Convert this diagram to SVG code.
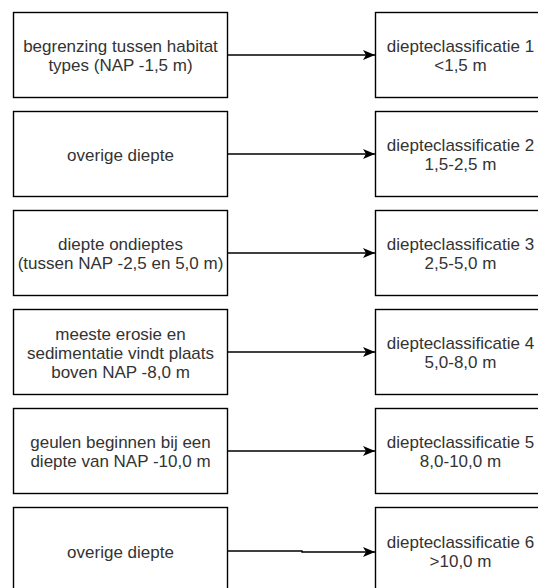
<svg xmlns="http://www.w3.org/2000/svg" width="538" height="588" viewBox="0 0 538 588">
<defs>
<style>
.box{fill:#fff;stroke:#000;stroke-width:1.4}
.t{font-family:"Liberation Sans",Arial,Helvetica,sans-serif;font-size:17px;fill:#333;text-anchor:middle}
.edge{fill:none;stroke:#000;stroke-width:1.4}
</style>
<marker id="arr" markerUnits="userSpaceOnUse" markerWidth="14" markerHeight="12" refX="12" refY="5" orient="auto" viewBox="0 0 14 12">
<path d="M0,0 L12,5 L0,10 L3,5 Z" fill="#000"/>
</marker>
</defs>
<rect width="538" height="588" fill="#fff"/>
<g id="connectors">
<path class="edge" d="M227.5,55 H375" marker-end="url(#arr)"/>
<path class="edge" d="M227.5,154 H375" marker-end="url(#arr)"/>
<path class="edge" d="M227.5,253 H375" marker-end="url(#arr)"/>
<path class="edge" d="M227.5,352 H375" marker-end="url(#arr)"/>
<path class="edge" d="M227.5,451 H375" marker-end="url(#arr)"/>
<path class="edge" d="M227.5,551 H302 V552 H375" marker-end="url(#arr)"/>
</g>
<g id="l1"><rect class="box" x="13.5" y="12.5" width="214" height="85"/><text class="t"><tspan x="120.5" y="52.3">begrenzing tussen habitat</tspan><tspan x="120.5" y="71">types (NAP -1,5 m)</tspan></text></g>
<g id="l2"><rect class="box" x="13.5" y="111.5" width="214" height="85"/><text class="t" x="120.5" y="160.7">overige diepte</text></g>
<g id="l3"><rect class="box" x="13.5" y="210.5" width="214" height="85"/><text class="t"><tspan x="120.5" y="250.3">diepte ondieptes</tspan><tspan x="120.5" y="269">(tussen NAP -2,5 en 5,0 m)</tspan></text></g>
<g id="l4"><rect class="box" x="13.5" y="309.5" width="214" height="85"/><text class="t"><tspan x="120.5" y="340.4">meeste erosie en</tspan><tspan x="120.5" y="359.1">sedimentatie vindt plaats</tspan><tspan x="120.5" y="377.8">boven NAP -8,0 m</tspan></text></g>
<g id="l5"><rect class="box" x="13.5" y="408.5" width="214" height="85"/><text class="t"><tspan x="120.5" y="448.3">geulen beginnen bij een</tspan><tspan x="120.5" y="467">diepte van NAP -10,0 m</tspan></text></g>
<g id="l6"><rect class="box" x="13.5" y="507.5" width="214" height="85"/><text class="t" x="120.5" y="557.7">overige diepte</text></g>
<g id="r1"><rect class="box" x="375.5" y="12.5" width="170" height="85"/><text class="t"><tspan x="460.5" y="52.3">diepteclassificatie 1</tspan><tspan x="460.5" y="71">&lt;1,5 m</tspan></text></g>
<g id="r2"><rect class="box" x="375.5" y="111.5" width="170" height="85"/><text class="t"><tspan x="460.5" y="151.3">diepteclassificatie 2</tspan><tspan x="460.5" y="170">1,5-2,5 m</tspan></text></g>
<g id="r3"><rect class="box" x="375.5" y="210.5" width="170" height="85"/><text class="t"><tspan x="460.5" y="250.3">diepteclassificatie 3</tspan><tspan x="460.5" y="269">2,5-5,0 m</tspan></text></g>
<g id="r4"><rect class="box" x="375.5" y="309.5" width="170" height="85"/><text class="t"><tspan x="460.5" y="349.3">diepteclassificatie 4</tspan><tspan x="460.5" y="368">5,0-8,0 m</tspan></text></g>
<g id="r5"><rect class="box" x="375.5" y="408.5" width="170" height="85"/><text class="t"><tspan x="460.5" y="448.3">diepteclassificatie 5</tspan><tspan x="460.5" y="467">8,0-10,0 m</tspan></text></g>
<g id="r6"><rect class="box" x="375.5" y="507.5" width="170" height="85"/><text class="t"><tspan x="460.5" y="548.3">diepteclassificatie 6</tspan><tspan x="460.5" y="567">&gt;10,0 m</tspan></text></g>
</svg>
